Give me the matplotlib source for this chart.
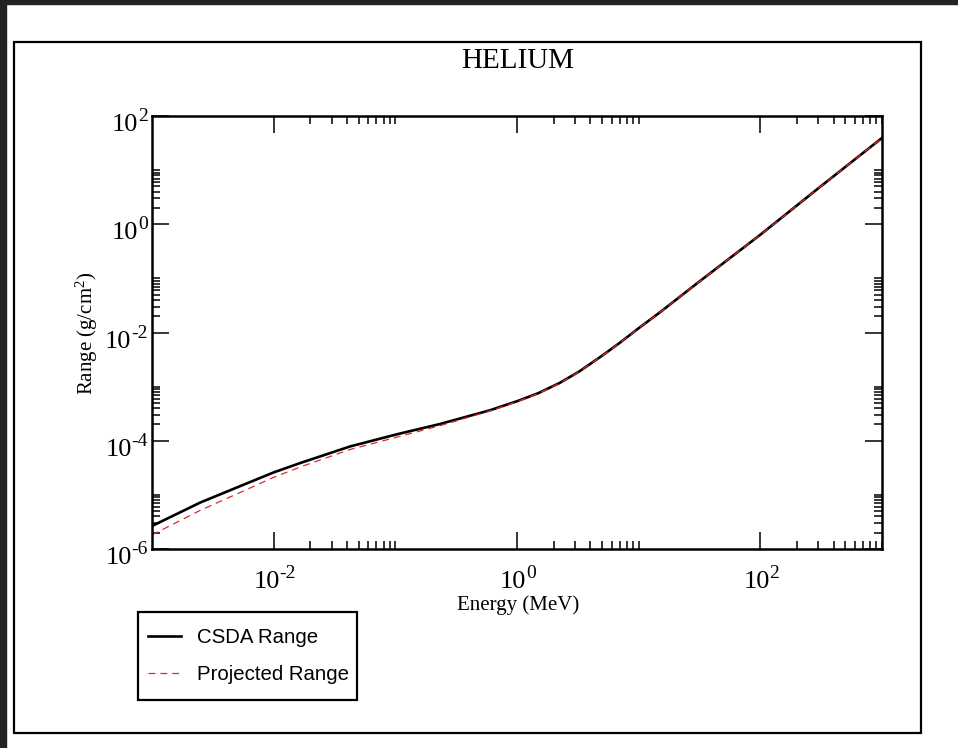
import numpy as np
import matplotlib
matplotlib.use('Agg')
import matplotlib.pyplot as plt
from matplotlib.patches import Rectangle
from matplotlib.ticker import NullFormatter
from matplotlib.transforms import blended_transform_factory, offset_copy

plt.rcParams['font.family'] = 'Liberation Serif'
plt.rcParams['mathtext.fontset'] = 'custom'
plt.rcParams['mathtext.rm'] = 'Liberation Serif'
plt.rcParams['mathtext.it'] = 'Liberation Serif:italic'

# alpha particle ranges in helium (g/cm^2)
energy = [1e-3, 2.5e-3, 6.5e-3, 1e-2, 1.65e-2, 4.25e-2, 0.105, 0.233, 0.6, 1.0,
          1.5, 2.25, 3.25, 5, 7, 10, 15, 30, 100, 300, 1000]
csda = [2.66e-6, 7.24e-6, 1.75e-5, 2.60e-5, 3.87e-5, 7.85e-5, 1.33e-4, 2.04e-4, 3.66e-4, 5.37e-4,
        7.59e-4, 1.175e-3, 1.905e-3, 3.72e-3, 6.46e-3, 1.20e-2, 2.37e-2, 8.02e-2, 0.64, 4.63, 39.3]
projected = [1.82e-6, 5.2e-6, 1.36e-5, 2.11e-5, 3.27e-5, 6.9e-5, 1.18e-4, 1.9e-4, 3.55e-4, 5.26e-4,
             7.48e-4, 1.163e-3, 1.89e-3, 3.70e-3, 6.43e-3, 1.195e-2, 2.36e-2, 7.99e-2, 0.638, 4.62, 39.2]

xmajor = [1e-2, 1e0, 1e2]
ymajor = [1e-6, 1e-4, 1e-2, 1e0, 1e2]

W, H = 958, 748
fig = plt.figure(figsize=(W/100, H/100), dpi=100)

# page background strips and outer frame
fig.patches.append(Rectangle((0, 1-4/H), 1, 4/H, transform=fig.transFigure,
                             color='#222222', zorder=0))
fig.patches.append(Rectangle((0, 0), 6/W, 1, transform=fig.transFigure,
                             color='#222222', zorder=0))
fig.patches.append(Rectangle((14/W, 1-733/H), (921-14)/W, (733-42)/H,
                             transform=fig.transFigure, fill=False,
                             edgecolor='k', lw=1.6, zorder=1))

ax = fig.add_axes([152/W, 1-549/H, (882-152)/W, (549-116)/H])
ax.plot(energy, csda, color='k', lw=1.9, label='CSDA Range')
ax.plot(energy, projected, color='#e02828', lw=0.9, dashes=(5.5, 4),
        label='Projected Range')

ax.set_xscale('log')
ax.set_yscale('log')
ax.set_xlim(1e-3, 1e3)
ax.set_ylim(1e-6, 1e2)

ax.set_xticks(xmajor)
ax.set_xticks([k*m for m in xmajor for k in range(2, 11)], minor=True)
ax.set_yticks(ymajor)
ax.set_yticks([k*m for m in ymajor[:-1] for k in range(2, 11)], minor=True)
for a in (ax.xaxis, ax.yaxis):
    a.set_major_formatter(NullFormatter())
    a.set_minor_formatter(NullFormatter())

ax.tick_params(which='both', direction='in', top=True, right=True, width=1.1)
ax.tick_params(which='major', length=12)
ax.tick_params(which='minor', length=6)
for s in ax.spines.values():
    s.set_linewidth(1.8)

# tick labels as "10" plus a raised exponent, offsets in pixels
renderer = fig.canvas.get_renderer()
xbase = blended_transform_factory(ax.transData, ax.transAxes)
ybase = blended_transform_factory(ax.transAxes, ax.transData)
GAP = 0


def power_label(base, x, y, v, align, dx, dy):
    e = str(int(round(np.log10(v))))
    main = ax.text(x, y, '10', ha='left', va='baseline', fontsize=19)
    sup = ax.text(x, y, e, ha='left', va='baseline', fontsize=14)
    wm = main.get_window_extent(renderer).width
    ws = sup.get_window_extent(renderer).width
    total = wm + ws + GAP
    x0 = dx - total/2 if align == 'center' else dx - total
    main.set_transform(offset_copy(base, fig=fig, x=x0, y=dy, units='dots'))
    sup.set_transform(offset_copy(base, fig=fig, x=x0 + wm + GAP, y=dy + 10,
                                  units='dots'))


for v in xmajor:
    power_label(xbase, v, 0, v, 'center', 1, -39)
for v in ymajor:
    power_label(ybase, 0, v, v, 'right', -4, -15)

fig.text(518/W, 1-61/H, 'HELIUM', ha='center', va='center', fontsize=21)
fig.text(518/W, 1-605/H, 'Energy (MeV)', ha='center', va='center', fontsize=15)
fig.text(87/W, 1-333/H, 'Range (g/cm$^2$)', ha='center', va='center',
         rotation=90, fontsize=15)

# legend with its own box
fig.patches.append(Rectangle((138/W, 1-700/H), (357-138)/W, (700-612)/H,
                             transform=fig.transFigure, fill=False,
                             edgecolor='k', lw=1.6, zorder=3))
leg = ax.legend(loc='upper left', bbox_to_anchor=(138/W, 1-618/H),
                bbox_transform=fig.transFigure, borderaxespad=0,
                prop={'family': 'Liberation Sans', 'size': 14.7},
                frameon=False, handlelength=1.6, handletextpad=0.8,
                borderpad=0.5, labelspacing=0.88)

fig.savefig('out.png', dpi=100)
